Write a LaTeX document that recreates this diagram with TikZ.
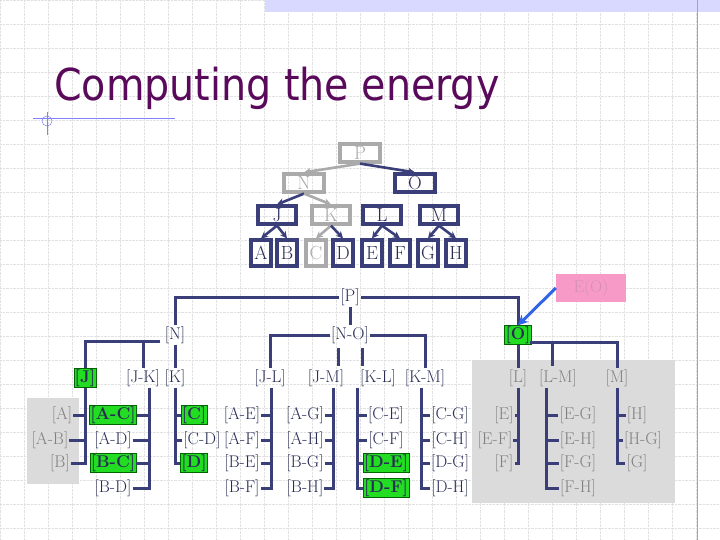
\documentclass[tikz,border=0pt]{standalone}
\usepackage{fontspec}
\newfontfamily\titlefont{DejaVu Sans Condensed}
\usetikzlibrary{arrows.meta}
\definecolor{navy}{HTML}{3A3F7A}
\definecolor{gry}{HTML}{AAAAAA}
\definecolor{gtx}{HTML}{808080}
\definecolor{grn}{HTML}{22DD22}
\definecolor{pnk}{HTML}{F79AC8}
\begin{document}
\begin{tikzpicture}[x=1pt,y=-1pt,
 lb/.style={font=\fontsize{17}{17}\selectfont,inner sep=1pt,text=navy!70!black},
 gl/.style={lb,text=gtx},
 gb/.style={lb,fill=grn,draw=green!40!black,inner sep=1pt,font=\fontsize{17}{17}\selectfont\bfseries},
 ln/.style={draw=navy,line width=3pt},
 tb/.style={draw=navy,line width=3.2pt,font=\fontsize{19}{19}\selectfont,text=navy!70!black,minimum height=18pt,inner sep=0pt},
 tg/.style={tb,draw=gry,text=gry},
 te/.style={line width=2.6pt,draw=navy,-{Stealth[length=7pt,width=7pt]}},
 tge/.style={te,draw=gry}]
\useasboundingbox (0,0) rectangle (720,540);
\fill[white] (0,0) rectangle (720,540);
\foreach \i in {0,24,...,720} \draw[gry!35,densely dotted,line width=0.4pt] (\i,0) -- (\i,540);
\foreach \i in {0,24,...,540} \draw[gry!35,densely dotted,line width=0.4pt] (0,\i) -- (720,\i);
\fill[blue!15] (265,0) rectangle (720,12);
\draw[blue!40,line width=0.6pt] (697,0) -- (697,540);
\draw[blue!50,line width=0.8pt] (33,118) -- (175,118);
\draw[blue!50,line width=0.6pt] (47,112) -- (47,135);
\draw[blue!50,line width=0.5pt] (47,121) circle (5);
\node[anchor=west,inner sep=0,text={rgb,255:red,90;green,10;blue,90},font=\titlefont\fontsize{44}{44}\selectfont] (title) at (54,88) {Computing the energy};
% top tree
\node[tg,minimum width=40pt] (P) at (360,153) {P};
\node[tg,minimum width=40pt] (N) at (304,183) {N};
\node[tb,minimum width=40pt] (O) at (415,183) {O};
\node[tb,minimum width=38pt] (J) at (277,215) {J};
\node[tg,minimum width=38pt] (K) at (331,215) {K};
\node[tb,minimum width=38pt] (L) at (382,215) {L};
\node[tb,minimum width=38pt] (M) at (439,215) {M};
\foreach \n/\x in {A/261,B/287,D/343,E/372,F/400,G/428,H/456}
 \node[tb,minimum width=20pt,minimum height=26pt] (\n) at (\x,253) {\n};
\node[tg,minimum width=20pt,minimum height=26pt] (C) at (316,253) {C};
\draw[tge] (P.south) -- (N.north);
\draw[te] (P.south) -- (O.north);
\draw[te] (N.south) -- (J.north);
\draw[tge] (N.south) -- (K.north);
\draw[te] (J.south) -- (A.north); \draw[te] (J.south) -- (B.north);
\draw[tge] (K.south) -- (C.north); \draw[te] (K.south) -- (D.north);
\draw[te] (L.south) -- (E.north); \draw[te] (L.south) -- (F.north);
\draw[te] (M.south) -- (G.north); \draw[te] (M.south) -- (H.north);
% grey panels
\fill[gray!28] (27,398) rectangle (79,484);
\fill[gray!28] (472,360) rectangle (675,503);
% lower tree
\node[lb] (lP) at (350,297) {[P]};
\node[lb] (lN) at (175,335) {[N]};
\node[lb] (lNO) at (350,335) {[N-O]};
\node[gb] (lO) at (518,335) {[O]};
\node[lb,fill=pnk,text=pnk!70!gray,minimum width=70pt,minimum height=28pt] (EO) at (591,288) {E(O)};
\draw[ln] (lP.west) -| (lN.north);
\draw[ln] (lP.east) -| (lO.north);
\draw[ln] (lP.south) -- (lNO.north);
\draw[line width=3pt,draw={rgb,255:red,50;green,100;blue,230},-{Stealth[length=10pt,width=10pt]}] (EO.west) -- (lO.north);
\node[gb] (lJ) at (85,378) {[J]};
\node[lb] (lJK) at (143,378) {[J-K]};
\node[lb] (lK) at (175,378) {[K]};
\node[lb] (lJL) at (270,378) {[J-L]};
\node[lb] (lJM) at (326,378) {[J-M]};
\node[lb] (lKL) at (378,378) {[K-L]};
\node[lb] (lKM) at (425,378) {[K-M]};
\node[gl] (lL) at (518,378) {[L]};
\node[gl] (lLM) at (558,378) {[L-M]};
\node[gl] (lM) at (617,378) {[M]};
\coordinate (nbar) at (160,341);
\draw[ln] (nbar) -| (lJ.north);
\draw[ln] (lJK.north |- nbar) -- (lJK.north);
\draw[ln] (lN.south) -- (lK.north);
\draw[ln] (lNO.west) -| (lJL.north);
\draw[ln] (338,348) -- (338,366);
\draw[ln] (362,348) -- (362,366);
\draw[ln] (lNO.east) -| (lKM.north);
\coordinate (obar) at (530,342);
\draw[ln] (obar) -| (lM.north);
\draw[ln] (552,342) -- (552,366);
\draw[ln] (lO.south) -- (lL.north);
% columns
\foreach \nm/\t/\x/\y/\st in {a/[A]/62/415/gl,ab/[A-B]/50/440/gl,b/[B]/60/463/gl,
  ac/[A-C]/113/415/gb,ad/[A-D]/113/440/lb,bc/[B-C]/113/463/gb,bd/[B-D]/113/488/lb,
  ae/[A-E]/242/415/lb,af/[A-F]/242/440/lb,be/[B-E]/242/463/lb,bf/[B-F]/242/488/lb,
  ag/[A-G]/305/415/lb,ah/[A-H]/305/440/lb,bg/[B-G]/305/463/lb,bh/[B-H]/305/488/lb,
  e/[E]/504/415/gl,ef/[E-F]/495/440/gl,f/[F]/504/463/gl}
  {\node[\st] (\nm) at (\x,\y) {\t};}
\foreach \nm/\t/\x/\y/\st in {c/[C]/194/415/gb,cd/[C-D]/202/440/lb,d/[D]/194/463/gb,
  ce/[C-E]/386/415/lb,cf/[C-F]/386/440/lb,de/[D-E]/386/463/gb,df/[D-F]/386/488/gb,
  cg/[C-G]/450/415/lb,ch/[C-H]/450/440/lb,dg/[D-G]/450/463/lb,dh/[D-H]/450/488/lb,
  eg/[E-G]/578/415/gl,eh/[E-H]/578/440/gl,fg/[F-G]/578/463/gl,fh/[F-H]/578/488/gl,
  h/[H]/637/415/gl,hg/[H-G]/643/440/gl,g/[G]/637/463/gl}
  {\node[\st] (\nm) at (\x,\y) {\t};}
\coordinate (cJ) at (85,400); \coordinate (cJK) at (149,400); \coordinate (cK) at (175,400);
\coordinate (cJL) at (271,400); \coordinate (cJM) at (333,400); \coordinate (cKL) at (357,400);
\coordinate (cKM) at (421,400); \coordinate (cL) at (518,400); \coordinate (cLM) at (546,400);
\coordinate (cM) at (617,400);
\draw[ln] (lJ.south) -- (b.east -| cJ) -- (b.east);
\foreach \n in {a,ab} \draw[ln] (\n.east) -- (\n.east -| cJ);
\draw[ln] (lJK.south -| cJK) -- (bd.east -| cJK) -- (bd.east);
\foreach \n in {ac,ad,bc} \draw[ln] (\n.east) -- (\n.east -| cJK);
\draw[ln] (lK.south) -- (d.west -| cK) -- (d.west);
\foreach \n in {c,cd} \draw[ln] (\n.west) -- (\n.west -| cK);
\draw[ln] (lJL.south -| cJL) -- (bf.east -| cJL) -- (bf.east);
\foreach \n in {ae,af,be} \draw[ln] (\n.east) -- (\n.east -| cJL);
\draw[ln] (lJM.south -| cJM) -- (bh.east -| cJM) -- (bh.east);
\foreach \n in {ag,ah,bg} \draw[ln] (\n.east) -- (\n.east -| cJM);
\draw[ln] (lKL.south -| cKL) -- (df.west -| cKL) -- (df.west);
\foreach \n in {ce,cf,de} \draw[ln] (\n.west) -- (\n.west -| cKL);
\draw[ln] (lKM.south -| cKM) -- (dh.west -| cKM) -- (dh.west);
\foreach \n in {cg,ch,dg} \draw[ln] (\n.west) -- (\n.west -| cKM);
\draw[ln] (lL.south) -- (f.east -| cL) -- (f.east);
\foreach \n in {e,ef} \draw[ln] (\n.east) -- (\n.east -| cL);
\draw[ln] (lLM.south -| cLM) -- (fh.west -| cLM) -- (fh.west);
\foreach \n in {eg,eh,fg} \draw[ln] (\n.west) -- (\n.west -| cLM);
\draw[ln] (lM.south) -- (g.west -| cM) -- (g.west);
\foreach \n in {h,hg} \draw[ln] (\n.west) -- (\n.west -| cM);
\end{tikzpicture}
\end{document}
